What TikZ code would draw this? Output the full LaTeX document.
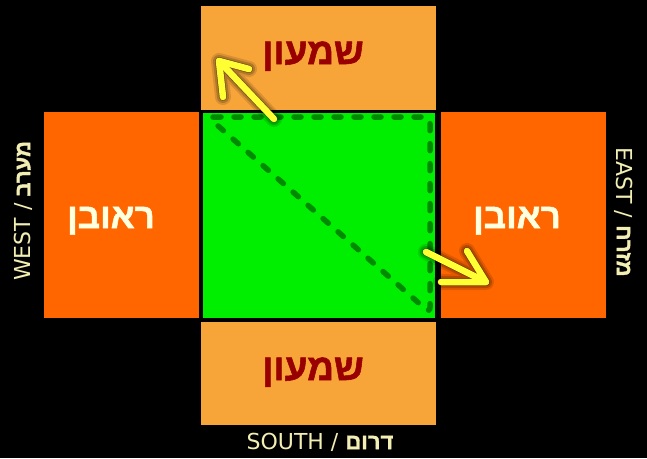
\documentclass[tikz,border=0pt]{standalone}
\usepackage{fontspec}
\setmainfont{DejaVu Sans}
\newfontfamily\heb[Script=Hebrew, BoldFeatures={FakeBold=1.5}]{Liberation Sans}
\TeXXeTstate=1
\definecolor{bgblack}{HTML}{000000}
\definecolor{lightor}{HTML}{F7A539}
\definecolor{darkor}{HTML}{FF6600}
\definecolor{sqgreen}{HTML}{00EE00}
\definecolor{dashgreen}{HTML}{008A00}
\definecolor{namered}{HTML}{990000}
\definecolor{namewhite}{HTML}{FFFFE0}
\definecolor{lblcol}{HTML}{F2EEB4}
\definecolor{arrowyel}{HTML}{FFFF33}
\tikzset{
  panel/.style={inner sep=0pt, outer sep=0pt, draw=none},
  lightpanel/.style={panel, fill=lightor},
  darkpanel/.style={panel, fill=darkor},
  namered/.style={text=namered, font=\heb\bfseries\fontsize{37}{40}\selectfont, anchor=base, inner sep=0pt},
  namewhite/.style={text=namewhite, font=\heb\bfseries\fontsize{35}{40}\selectfont, anchor=base, inner sep=0pt},
  dirlabel/.style={text=lblcol, font=\fontsize{22}{26}\selectfont, inner sep=0pt},
  yelarrow/.style={draw=arrowyel, line width=6.5pt, line cap=round, line join=round},
  yelshadow/.style={draw=black, opacity=#1, line cap=round, line join=round},
  dashtri/.style={draw=dashgreen, line width=5.5pt, line cap=round, dash pattern=on 7pt off 13pt, rounded corners=6pt}
}
\newcommand{\hebb}[1]{{\heb\bfseries\beginR #1\endR}}
\begin{document}
\begin{tikzpicture}[x=1pt,y=-1pt]
\fill[bgblack] (0,0) rectangle (647,458);
\useasboundingbox (0,0) rectangle (647,458);
% panels
\node[lightpanel, minimum width=235pt, minimum height=103.5pt] (top) at (318.5,57.75) {};
\node[lightpanel, minimum width=235pt, minimum height=103pt] (bottom) at (318.5,373.5) {};
\node[darkpanel, minimum width=154.5pt, minimum height=205.5pt] (left) at (121.25,214.75) {};
\node[darkpanel, minimum width=165pt, minimum height=205.5pt] (right) at (523.5,214.75) {};
\node[inner sep=0pt, outer sep=0pt, fill=sqgreen, draw=black, line width=3.5pt, minimum width=235.5pt, minimum height=208.5pt] (center) at (319,215.5) {};
% names
\node[namered] (topname) at (313,64) {\beginR שמעון\endR};
\node[namered] (botname) at (313,380) {\beginR שמעון\endR};
\node[namewhite] (leftname) at (111,228) {\beginR ראובן\endR};
\node[namewhite] (rightname) at (517,228) {\beginR ראובן\endR};
% direction labels
\node[dirlabel, rotate=90] (west) at (23,211) {WEST / \hebb{מערב}};
\node[dirlabel, rotate=-90] (east) at (624,212) {EAST / \hebb{מזרח}};
\node[dirlabel] (south) at (320,442) {SOUTH / \hebb{דרום}};
% dashed triangle
\coordinate (tA) at (208,117);
\coordinate (tB) at (430,117);
\coordinate (tC) at (430,313);
\draw[dashtri] (tA) -- (tB) -- (tC) -- cycle;
% arrow 1
\coordinate (a1tail) at (274,119);
\coordinate (a1tip) at (219,61);
\coordinate (a1armA) at (249,69);
\coordinate (a1armB) at (223,97);
\begin{scope}[shift={(-5,6)}]
\foreach \w/\o in {16/0.12, 12/0.18, 8/0.3}{
\draw[yelshadow=\o, line width=\w pt] (a1armA) -- (a1tip) -- (a1armB) (a1tip) -- (a1tail);
}
\end{scope}
\draw[yelarrow] (a1tail) -- (a1tip);
\draw[yelarrow] (a1armA) -- (a1tip) -- (a1armB);
% arrow 2
\coordinate (a2tail) at (426,252);
\coordinate (a2tip) at (486,282);
\coordinate (a2armA) at (467,251);
\coordinate (a2armB) at (441,282);
\begin{scope}[shift={(-4,6)}]
\foreach \w/\o in {16/0.12, 12/0.18, 8/0.3}{
\draw[yelshadow=\o, line width=\w pt] (a2armA) -- (a2tip) -- (a2armB) (a2tip) -- (a2tail);
}
\end{scope}
\draw[yelarrow] (a2tail) -- (a2tip);
\draw[yelarrow] (a2armA) -- (a2tip) -- (a2armB);
\end{tikzpicture}
\end{document}
